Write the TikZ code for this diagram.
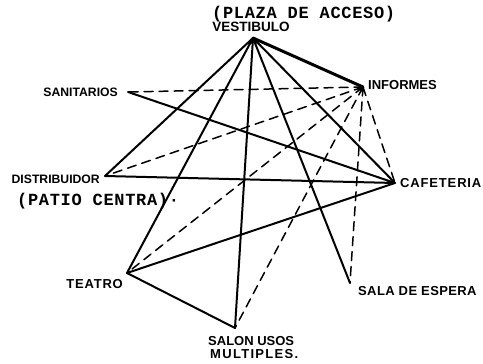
\documentclass[tikz,border=0pt]{standalone}
\usepackage{fontspec}
\setsansfont{Liberation Sans}
\setmonofont{Liberation Mono}
\usepackage{tikz}
\usetikzlibrary{arrows.meta}

\begin{document}
\begin{tikzpicture}[x=1pt,y=-1pt,line cap=round,line join=round,
  lbl/.style={font=\sffamily\bfseries\fontsize{13}{14}\selectfont,inner sep=0pt},
  maq/.style={font=\ttfamily\bfseries\fontsize{17}{18}\selectfont\addfontfeature{LetterSpace=4},inner sep=0pt},
  liga/.style={line width=2pt},
  punt/.style={line width=1.5pt,dash pattern=on 9pt off 6pt}]
\useasboundingbox (0,0) rectangle (483,364);
% puntos de los locales
\coordinate (vest) at (253,38);
\coordinate (info) at (363,87);
\coordinate (sani) at (128,92);
\coordinate (dist) at (105,176);
\coordinate (cafe) at (395,183);
\coordinate (teat) at (127,273);
\coordinate (salon) at (235,328);
\coordinate (espera) at (350,283);
% textos
\node[maq,anchor=base west] (plaza) at (212,18) {(PLAZA DE ACCESO)};
\node[lbl,anchor=base,font=\sffamily\bfseries\fontsize{13.5}{14}\selectfont] (vestlbl) at (251,31) {VESTIBULO};
\node[lbl,anchor=base east,font=\sffamily\bfseries\fontsize{12.2}{13}\selectfont] (sanilbl) at (118,96) {SANITARIOS};
\node[lbl,anchor=base west] (infolbl) at (368,89) {INFORMES};
\node[lbl,anchor=base east,font=\sffamily\bfseries\fontsize{12.2}{13}\selectfont] (distlbl) at (100,183) {DISTRIBUIDOR};
\node[maq,anchor=base west] (patio) at (17,205) {(PATIO CENTRA)·};
\node[lbl,anchor=base west] (cafelbl) at (400,187) {\addfontfeature{LetterSpace=6.5}CAFETERIA};
\node[lbl,anchor=base east] (teatlbl) at (123,288) {\addfontfeature{LetterSpace=6}TEATRO};
\node[lbl,anchor=base west] (esperalbl) at (358,295) {\addfontfeature{LetterSpace=3}SALA DE ESPERA};
\node[lbl,anchor=base west] (salon1) at (208,345) {SALON USOS};
\node[lbl,anchor=base west] (salon2) at (210,358) {\addfontfeature{LetterSpace=10}MULTIPLES.};
% ligas directas
\draw[line width=3pt](vest)--(info);
\draw[liga](vest)--(dist) (vest)--(teat) (vest)--(salon) (vest)--(espera) (vest)--(cafe);
\draw[liga](sani)--(cafe) (dist)--(cafe) (teat)--(cafe) (teat)--(salon);
% ligas indirectas
\draw[punt](info)--(sani) (info)--(dist) (info)--(teat) (info)--(salon) (info)--(espera) (info)--(cafe);
\end{tikzpicture}
\end{document}
